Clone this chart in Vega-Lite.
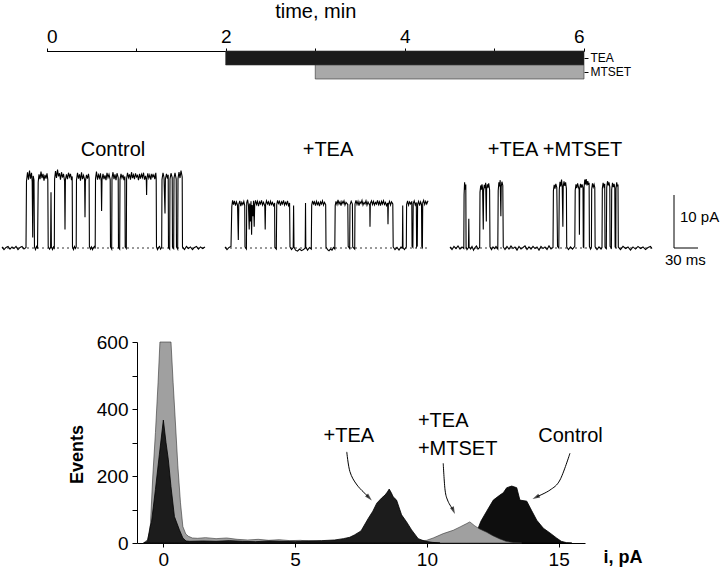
{
  "$schema": "https://vega.github.io/schema/vega-lite/v6.json",
  "width": 720,
  "height": 570,
  "autosize": {"type": "none"},
  "padding": 0,
  "background": "white",
  "config": {
    "view": {"stroke": null},
    "font": "Liberation Sans",
    "axis": {"labelFont": "Liberation Sans", "titleFont": "Liberation Sans", "labelColor": "black", "titleColor": "black", "domainColor": "black", "tickColor": "black", "grid": false},
    "text": {"font": "Liberation Sans", "color": "black"}
  },
  "datasets": {
    "drugs": [
      {"drug": "TEA", "start": 2, "end": 6},
      {"drug": "MTSET", "start": 3, "end": 6}
    ],
    "traces": [
      {"trace":"Control","t":2.5,"i":0.2},{"trace":"Control","t":5,"i":-0.3},{"trace":"Control","t":7.5,"i":0.1},{"trace":"Control","t":10,"i":0.3},{"trace":"Control","t":12.5,"i":-0.2},{"trace":"Control","t":15,"i":0.2},{"trace":"Control","t":17.5,"i":-0.1},{"trace":"Control","t":20,"i":0.3},{"trace":"Control","t":22.5,"i":-0.3},{"trace":"Control","t":25,"i":0.1},{"trace":"Control","t":27.5,"i":0.3},{"trace":"Control","t":30,"i":-0.2},{"trace":"Control","t":32.5,"i":0.1},
      {"trace":"Control","t":33.1,"i":12.6},{"trace":"Control","t":34.4,"i":14.3},{"trace":"Control","t":35.6,"i":12.9},{"trace":"Control","t":36.9,"i":14.6},{"trace":"Control","t":38.1,"i":13.1},{"trace":"Control","t":39.4,"i":14.2},{"trace":"Control","t":40.25,"i":12.5},{"trace":"Control","t":40.9,"i":2.0},{"trace":"Control","t":41.5,"i":13.6},{"trace":"Control","t":42.5,"i":12.8},
      {"trace":"Control","t":43.1,"i":0.2},{"trace":"Control","t":44.4,"i":-0.3},{"trace":"Control","t":45.6,"i":0.3},{"trace":"Control","t":46.9,"i":-0.1},
      {"trace":"Control","t":47.75,"i":12.4},{"trace":"Control","t":48.75,"i":13.9},{"trace":"Control","t":50,"i":13.0},{"trace":"Control","t":51.25,"i":14.4},{"trace":"Control","t":52.5,"i":13.2},{"trace":"Control","t":53.75,"i":14.0},{"trace":"Control","t":55,"i":12.7},{"trace":"Control","t":56.25,"i":13.8},{"trace":"Control","t":57.5,"i":13.1},{"trace":"Control","t":58.75,"i":14.1},{"trace":"Control","t":59.75,"i":12.9},
      {"trace":"Control","t":60.25,"i":0.3},{"trace":"Control","t":61.9,"i":-0.2},{"trace":"Control","t":63.25,"i":0.1},{"trace":"Control","t":63.75,"i":10.5},{"trace":"Control","t":64.25,"i":0.2},{"trace":"Control","t":65.6,"i":-0.3},{"trace":"Control","t":66.9,"i":0.2},{"trace":"Control","t":67.9,"i":0.0},
      {"trace":"Control","t":68.25,"i":13.0},{"trace":"Control","t":69.4,"i":14.5},{"trace":"Control","t":70.6,"i":13.2},{"trace":"Control","t":71.9,"i":14.8},{"trace":"Control","t":73.1,"i":13.5},{"trace":"Control","t":74.4,"i":14.1},{"trace":"Control","t":75.6,"i":12.9},{"trace":"Control","t":76.9,"i":14.3},{"trace":"Control","t":78.1,"i":13.3},{"trace":"Control","t":79.4,"i":14.0},{"trace":"Control","t":80.75,"i":12.6},{"trace":"Control","t":81.25,"i":3.5},{"trace":"Control","t":81.75,"i":12.8},{"trace":"Control","t":83.1,"i":13.9},{"trace":"Control","t":84.4,"i":13.0},{"trace":"Control","t":85.6,"i":14.2},{"trace":"Control","t":86.9,"i":13.4},{"trace":"Control","t":88.1,"i":14.0},{"trace":"Control","t":89.4,"i":12.8},{"trace":"Control","t":90.25,"i":13.5},
      {"trace":"Control","t":90.6,"i":0.2},{"trace":"Control","t":91.9,"i":-0.3},{"trace":"Control","t":93.1,"i":0.3},{"trace":"Control","t":94.4,"i":-0.1},{"trace":"Control","t":95.25,"i":0.2},
      {"trace":"Control","t":95.6,"i":12.8},{"trace":"Control","t":96.9,"i":14.2},{"trace":"Control","t":98.1,"i":13.1},{"trace":"Control","t":99.4,"i":13.9},{"trace":"Control","t":100.6,"i":12.7},{"trace":"Control","t":101.9,"i":14.3},{"trace":"Control","t":103.1,"i":13.0},{"trace":"Control","t":104.4,"i":13.7},{"trace":"Control","t":105.75,"i":12.9},{"trace":"Control","t":106.25,"i":5.8},{"trace":"Control","t":106.75,"i":12.6},{"trace":"Control","t":108.1,"i":13.8},{"trace":"Control","t":109.4,"i":13.1},{"trace":"Control","t":110.6,"i":14.0},{"trace":"Control","t":111.4,"i":13.2},
      {"trace":"Control","t":111.75,"i":0.3},{"trace":"Control","t":113.1,"i":-0.2},{"trace":"Control","t":114.4,"i":0.2},{"trace":"Control","t":115.6,"i":-0.3},{"trace":"Control","t":116.9,"i":0.1},{"trace":"Control","t":118.1,"i":0.3},{"trace":"Control","t":119,"i":-0.1},
      {"trace":"Control","t":119.4,"i":13.1},{"trace":"Control","t":120.6,"i":14.4},{"trace":"Control","t":121.9,"i":12.9},{"trace":"Control","t":123.1,"i":13.8},{"trace":"Control","t":124.4,"i":13.2},{"trace":"Control","t":125.6,"i":14.1},{"trace":"Control","t":126.5,"i":12.6},{"trace":"Control","t":127,"i":7.0},{"trace":"Control","t":127.5,"i":12.9},{"trace":"Control","t":128.75,"i":14.0},{"trace":"Control","t":130,"i":13.0},{"trace":"Control","t":131.25,"i":13.7},{"trace":"Control","t":132.5,"i":12.8},{"trace":"Control","t":133.75,"i":14.2},{"trace":"Control","t":135,"i":13.3},{"trace":"Control","t":136.25,"i":13.9},{"trace":"Control","t":137.75,"i":12.9},
      {"trace":"Control","t":138.1,"i":0.2},{"trace":"Control","t":139.6,"i":-0.2},
      {"trace":"Control","t":140,"i":13.2},{"trace":"Control","t":141.25,"i":14.3},{"trace":"Control","t":142.5,"i":13.0},{"trace":"Control","t":143.75,"i":13.9},{"trace":"Control","t":145,"i":12.8},{"trace":"Control","t":146.25,"i":14.1},{"trace":"Control","t":147.75,"i":13.3},
      {"trace":"Control","t":148.1,"i":0.1},{"trace":"Control","t":149.6,"i":-0.2},
      {"trace":"Control","t":150,"i":12.9},{"trace":"Control","t":151.25,"i":14.0},{"trace":"Control","t":152.5,"i":13.2},{"trace":"Control","t":153.75,"i":13.8},{"trace":"Control","t":155,"i":12.8},{"trace":"Control","t":156.1,"i":13.5},
      {"trace":"Control","t":156.5,"i":0.2},{"trace":"Control","t":157.9,"i":-0.1},
      {"trace":"Control","t":158.25,"i":13.1},{"trace":"Control","t":159.4,"i":14.2},{"trace":"Control","t":160.6,"i":13.3},{"trace":"Control","t":161.9,"i":13.9},{"trace":"Control","t":163.1,"i":12.9},{"trace":"Control","t":164.4,"i":14.3},{"trace":"Control","t":165.6,"i":13.2},{"trace":"Control","t":166.9,"i":13.8},{"trace":"Control","t":168.1,"i":13.0},{"trace":"Control","t":169.4,"i":14.1},{"trace":"Control","t":170.6,"i":13.4},{"trace":"Control","t":171.9,"i":13.7},{"trace":"Control","t":173.1,"i":12.8},{"trace":"Control","t":174.4,"i":14.0},{"trace":"Control","t":175.6,"i":13.1},{"trace":"Control","t":176.9,"i":13.9},{"trace":"Control","t":178.1,"i":13.3},{"trace":"Control","t":179.4,"i":14.2},{"trace":"Control","t":180.6,"i":12.9},{"trace":"Control","t":181.9,"i":13.6},{"trace":"Control","t":182.9,"i":12.7},{"trace":"Control","t":183.25,"i":10.0},{"trace":"Control","t":183.6,"i":13.0},{"trace":"Control","t":184.75,"i":14.1},{"trace":"Control","t":186,"i":13.2},{"trace":"Control","t":187.25,"i":13.8},{"trace":"Control","t":188.5,"i":12.9},{"trace":"Control","t":189.75,"i":14.0},{"trace":"Control","t":191,"i":13.4},{"trace":"Control","t":192.25,"i":13.8},{"trace":"Control","t":193.5,"i":13.0},{"trace":"Control","t":194.75,"i":14.2},{"trace":"Control","t":195.25,"i":13.1},
      {"trace":"Control","t":195.6,"i":0.2},{"trace":"Control","t":196.9,"i":-0.3},{"trace":"Control","t":198.1,"i":0.1},{"trace":"Control","t":199.4,"i":0.3},{"trace":"Control","t":200.6,"i":-0.2},{"trace":"Control","t":202.1,"i":0.1},
      {"trace":"Control","t":202.5,"i":12.9},{"trace":"Control","t":203.75,"i":14.2},{"trace":"Control","t":205,"i":13.3},{"trace":"Control","t":206.25,"i":6.5},{"trace":"Control","t":206.75,"i":13.0},{"trace":"Control","t":208.1,"i":14.0},{"trace":"Control","t":209.4,"i":13.1},{"trace":"Control","t":210.25,"i":13.8},
      {"trace":"Control","t":210.6,"i":0.1},{"trace":"Control","t":212.1,"i":-0.2},
      {"trace":"Control","t":212.5,"i":13.0},{"trace":"Control","t":213.75,"i":14.1},{"trace":"Control","t":215.25,"i":13.3},
      {"trace":"Control","t":215.6,"i":0.2},{"trace":"Control","t":217.1,"i":-0.1},
      {"trace":"Control","t":217.5,"i":13.2},{"trace":"Control","t":218.75,"i":14.2},{"trace":"Control","t":220.25,"i":13.0},
      {"trace":"Control","t":220.6,"i":0.2},{"trace":"Control","t":222.1,"i":-0.2},
      {"trace":"Control","t":222.5,"i":13.1},{"trace":"Control","t":223.75,"i":14.3},{"trace":"Control","t":225,"i":13.2},{"trace":"Control","t":226.25,"i":14.6},{"trace":"Control","t":227.75,"i":13.4},
      {"trace":"Control","t":228.1,"i":0.2},{"trace":"Control","t":230.6,"i":-0.3},{"trace":"Control","t":233.1,"i":0.3},{"trace":"Control","t":235.6,"i":-0.1},{"trace":"Control","t":238.1,"i":0.2},{"trace":"Control","t":240.6,"i":-0.3},{"trace":"Control","t":243.1,"i":0.1},{"trace":"Control","t":245.6,"i":0.3},{"trace":"Control","t":248.1,"i":-0.2},{"trace":"Control","t":250.6,"i":0.2},{"trace":"Control","t":253.1,"i":-0.1},{"trace":"Control","t":256.25,"i":0.2},

      {"trace":"+TEA","t":281.25,"i":0.2},{"trace":"+TEA","t":283.75,"i":-0.3},{"trace":"+TEA","t":286.25,"i":0.1},{"trace":"+TEA","t":288.75,"i":0.3},
      {"trace":"+TEA","t":289.75,"i":7.8},{"trace":"+TEA","t":290.75,"i":9.0},{"trace":"+TEA","t":291.9,"i":8.2},{"trace":"+TEA","t":293.1,"i":8.9},{"trace":"+TEA","t":294.4,"i":8.0},{"trace":"+TEA","t":295.6,"i":8.7},{"trace":"+TEA","t":296.9,"i":8.1},
      {"trace":"+TEA","t":297.9,"i":1.5},
      {"trace":"+TEA","t":298.5,"i":8.3},{"trace":"+TEA","t":299.75,"i":8.9},{"trace":"+TEA","t":301,"i":7.9},{"trace":"+TEA","t":302.25,"i":8.6},{"trace":"+TEA","t":303.5,"i":8.2},{"trace":"+TEA","t":304.75,"i":8.8},{"trace":"+TEA","t":305.9,"i":8.0},
      {"trace":"+TEA","t":306.25,"i":0.2},{"trace":"+TEA","t":308,"i":-0.2},
      {"trace":"+TEA","t":308.4,"i":8.5},{"trace":"+TEA","t":309.5,"i":9.1},{"trace":"+TEA","t":310.6,"i":8.0},{"trace":"+TEA","t":311.5,"i":3.5},{"trace":"+TEA","t":312.1,"i":8.4},{"trace":"+TEA","t":313.1,"i":5.0},{"trace":"+TEA","t":313.75,"i":8.8},{"trace":"+TEA","t":314.5,"i":2.5},{"trace":"+TEA","t":315.1,"i":8.1},{"trace":"+TEA","t":316.25,"i":6.0},{"trace":"+TEA","t":316.9,"i":8.9},{"trace":"+TEA","t":317.75,"i":4.0},{"trace":"+TEA","t":318.4,"i":8.3},{"trace":"+TEA","t":319.4,"i":9.0},{"trace":"+TEA","t":320.6,"i":8.2},{"trace":"+TEA","t":321.9,"i":8.8},{"trace":"+TEA","t":323.1,"i":7.9},{"trace":"+TEA","t":324.4,"i":8.7},{"trace":"+TEA","t":325.6,"i":8.3},{"trace":"+TEA","t":326.9,"i":9.0},{"trace":"+TEA","t":328.1,"i":8.1},{"trace":"+TEA","t":329.4,"i":8.6},{"trace":"+TEA","t":331,"i":7.9},{"trace":"+TEA","t":331.5,"i":3.5},{"trace":"+TEA","t":332,"i":8.2},{"trace":"+TEA","t":333.1,"i":8.9},{"trace":"+TEA","t":334.4,"i":8.3},{"trace":"+TEA","t":335.6,"i":8.7},{"trace":"+TEA","t":336.9,"i":8.0},{"trace":"+TEA","t":338.1,"i":8.8},{"trace":"+TEA","t":339.4,"i":8.2},{"trace":"+TEA","t":340.6,"i":8.6},{"trace":"+TEA","t":341.9,"i":8.0},{"trace":"+TEA","t":343.25,"i":8.5},
      {"trace":"+TEA","t":343.6,"i":0.1},{"trace":"+TEA","t":345.4,"i":-0.2},
      {"trace":"+TEA","t":345.9,"i":8.2},{"trace":"+TEA","t":347,"i":9.0},{"trace":"+TEA","t":348.1,"i":8.4},{"trace":"+TEA","t":349.4,"i":8.8},{"trace":"+TEA","t":350.6,"i":8.0},{"trace":"+TEA","t":351.9,"i":8.7},{"trace":"+TEA","t":353.1,"i":8.3},{"trace":"+TEA","t":354.4,"i":9.0},{"trace":"+TEA","t":355.6,"i":8.1},{"trace":"+TEA","t":356.9,"i":8.6},{"trace":"+TEA","t":358.1,"i":8.2},{"trace":"+TEA","t":359.4,"i":8.9},{"trace":"+TEA","t":360.6,"i":8.0},{"trace":"+TEA","t":362,"i":8.5},
      {"trace":"+TEA","t":362.5,"i":0.2},{"trace":"+TEA","t":364.4,"i":-0.3},{"trace":"+TEA","t":366.5,"i":0.1},{"trace":"+TEA","t":367,"i":8.0},{"trace":"+TEA","t":367.5,"i":0.2},{"trace":"+TEA","t":369.4,"i":-0.4},{"trace":"+TEA","t":371.9,"i":-0.6},{"trace":"+TEA","t":374.4,"i":-0.2},{"trace":"+TEA","t":376.9,"i":-0.5},{"trace":"+TEA","t":379.4,"i":-0.3},{"trace":"+TEA","t":381.5,"i":0.0},{"trace":"+TEA","t":381.9,"i":8.5},{"trace":"+TEA","t":382.25,"i":0.2},{"trace":"+TEA","t":384.4,"i":-0.4},{"trace":"+TEA","t":386.9,"i":0.1},{"trace":"+TEA","t":389.1,"i":-0.2},
      {"trace":"+TEA","t":389.6,"i":8.1},{"trace":"+TEA","t":390.75,"i":8.9},{"trace":"+TEA","t":391.9,"i":8.3},{"trace":"+TEA","t":393.1,"i":8.7},{"trace":"+TEA","t":394.4,"i":8.0},{"trace":"+TEA","t":395.6,"i":8.8},{"trace":"+TEA","t":396.9,"i":8.2},{"trace":"+TEA","t":398.1,"i":8.6},{"trace":"+TEA","t":399.4,"i":7.9},{"trace":"+TEA","t":400.6,"i":8.7},{"trace":"+TEA","t":401.9,"i":8.3},{"trace":"+TEA","t":403.1,"i":8.9},{"trace":"+TEA","t":404.4,"i":8.1},{"trace":"+TEA","t":405.6,"i":8.6},{"trace":"+TEA","t":407.1,"i":8.2},
      {"trace":"+TEA","t":407.5,"i":0.2},{"trace":"+TEA","t":409.4,"i":-0.3},{"trace":"+TEA","t":411.25,"i":-0.5},{"trace":"+TEA","t":413.1,"i":-0.2},{"trace":"+TEA","t":415,"i":-0.4},{"trace":"+TEA","t":416.9,"i":0.1},{"trace":"+TEA","t":418.5,"i":-0.2},
      {"trace":"+TEA","t":419,"i":8.0},{"trace":"+TEA","t":420,"i":8.8},{"trace":"+TEA","t":421.25,"i":8.2},{"trace":"+TEA","t":422.5,"i":9.1},{"trace":"+TEA","t":423.75,"i":8.3},{"trace":"+TEA","t":425,"i":8.7},{"trace":"+TEA","t":426.25,"i":8.0},{"trace":"+TEA","t":427.5,"i":8.8},{"trace":"+TEA","t":428.75,"i":8.4},{"trace":"+TEA","t":430,"i":8.9},{"trace":"+TEA","t":431.25,"i":8.1},{"trace":"+TEA","t":432.5,"i":8.6},{"trace":"+TEA","t":434.75,"i":8.2},
      {"trace":"+TEA","t":435.25,"i":0.3},{"trace":"+TEA","t":437.1,"i":-0.1},
      {"trace":"+TEA","t":437.5,"i":8.1},{"trace":"+TEA","t":439,"i":8.8},{"trace":"+TEA","t":440.5,"i":8.3},
      {"trace":"+TEA","t":440.9,"i":0.2},{"trace":"+TEA","t":443.4,"i":-0.2},
      {"trace":"+TEA","t":443.75,"i":8.3},{"trace":"+TEA","t":445,"i":9.0},{"trace":"+TEA","t":446.25,"i":8.2},{"trace":"+TEA","t":447.5,"i":8.8},{"trace":"+TEA","t":448.75,"i":8.0},{"trace":"+TEA","t":450,"i":8.7},{"trace":"+TEA","t":451.25,"i":8.4},{"trace":"+TEA","t":452.5,"i":9.0},{"trace":"+TEA","t":453.75,"i":8.1},{"trace":"+TEA","t":455,"i":8.6},{"trace":"+TEA","t":456.25,"i":8.3},{"trace":"+TEA","t":457.5,"i":8.9},{"trace":"+TEA","t":458.75,"i":8.1},{"trace":"+TEA","t":460,"i":8.7},{"trace":"+TEA","t":462.25,"i":8.0},{"trace":"+TEA","t":462.5,"i":4.0},{"trace":"+TEA","t":462.9,"i":8.4},{"trace":"+TEA","t":464.4,"i":8.9},{"trace":"+TEA","t":465.6,"i":8.2},{"trace":"+TEA","t":466.9,"i":8.8},{"trace":"+TEA","t":468.1,"i":8.1},{"trace":"+TEA","t":469.4,"i":8.6},{"trace":"+TEA","t":470.6,"i":8.3},{"trace":"+TEA","t":471.9,"i":9.0},{"trace":"+TEA","t":473.1,"i":8.2},{"trace":"+TEA","t":474.4,"i":8.7},{"trace":"+TEA","t":475.6,"i":8.0},{"trace":"+TEA","t":476.9,"i":8.8},{"trace":"+TEA","t":478.1,"i":8.3},{"trace":"+TEA","t":479.4,"i":8.9},{"trace":"+TEA","t":480.6,"i":8.2},{"trace":"+TEA","t":481.9,"i":8.6},{"trace":"+TEA","t":483.1,"i":8.0},{"trace":"+TEA","t":484.6,"i":8.5},{"trace":"+TEA","t":485,"i":4.5},{"trace":"+TEA","t":485.4,"i":8.2},{"trace":"+TEA","t":486.9,"i":8.8},{"trace":"+TEA","t":488.1,"i":8.1},{"trace":"+TEA","t":489.4,"i":8.7},{"trace":"+TEA","t":491,"i":8.3},
      {"trace":"+TEA","t":491.5,"i":0.2},{"trace":"+TEA","t":493.75,"i":-0.3},{"trace":"+TEA","t":496.25,"i":0.1},{"trace":"+TEA","t":498.75,"i":-0.4},{"trace":"+TEA","t":501.25,"i":0.2},{"trace":"+TEA","t":503,"i":0.0},{"trace":"+TEA","t":503.4,"i":8.0},{"trace":"+TEA","t":503.75,"i":0.1},{"trace":"+TEA","t":505.6,"i":-0.3},{"trace":"+TEA","t":507.9,"i":0.2},
      {"trace":"+TEA","t":508.25,"i":8.2},{"trace":"+TEA","t":509.5,"i":8.9},{"trace":"+TEA","t":510.75,"i":8.1},{"trace":"+TEA","t":512,"i":8.7},{"trace":"+TEA","t":513.25,"i":8.3},{"trace":"+TEA","t":514.75,"i":8.8},
      {"trace":"+TEA","t":515.1,"i":0.3},{"trace":"+TEA","t":516.1,"i":0.1},
      {"trace":"+TEA","t":516.5,"i":8.4},{"trace":"+TEA","t":517.75,"i":8.9},{"trace":"+TEA","t":519.1,"i":8.1},{"trace":"+TEA","t":520.4,"i":8.6},
      {"trace":"+TEA","t":520.75,"i":0.2},{"trace":"+TEA","t":521.6,"i":0.4},
      {"trace":"+TEA","t":522,"i":8.3},{"trace":"+TEA","t":523.25,"i":8.8},{"trace":"+TEA","t":524.5,"i":8.0},{"trace":"+TEA","t":525.75,"i":8.7},{"trace":"+TEA","t":526.9,"i":8.2},
      {"trace":"+TEA","t":527.25,"i":0.3},{"trace":"+TEA","t":528,"i":0.1},
      {"trace":"+TEA","t":528.4,"i":8.5},{"trace":"+TEA","t":529.6,"i":9.0},{"trace":"+TEA","t":530.9,"i":8.2},{"trace":"+TEA","t":532.1,"i":8.8},{"trace":"+TEA","t":533.4,"i":8.3},{"trace":"+TEA","t":535,"i":8.9},

      {"trace":"+TEA +MTSET","t":562.5,"i":0.2},{"trace":"+TEA +MTSET","t":565,"i":-0.3},{"trace":"+TEA +MTSET","t":567.5,"i":0.3},{"trace":"+TEA +MTSET","t":570,"i":-0.1},{"trace":"+TEA +MTSET","t":572.5,"i":0.4},{"trace":"+TEA +MTSET","t":575,"i":-0.2},{"trace":"+TEA +MTSET","t":577.5,"i":0.2},{"trace":"+TEA +MTSET","t":579.75,"i":-0.1},
      {"trace":"+TEA +MTSET","t":580.1,"i":10.0},{"trace":"+TEA +MTSET","t":580.75,"i":12.4},{"trace":"+TEA +MTSET","t":581.5,"i":11.0},{"trace":"+TEA +MTSET","t":582.25,"i":12.0},
      {"trace":"+TEA +MTSET","t":582.6,"i":0.2},{"trace":"+TEA +MTSET","t":583.75,"i":-0.3},{"trace":"+TEA +MTSET","t":585.6,"i":0.1},{"trace":"+TEA +MTSET","t":586,"i":5.5},{"trace":"+TEA +MTSET","t":586.4,"i":0.2},{"trace":"+TEA +MTSET","t":588.1,"i":-0.2},{"trace":"+TEA +MTSET","t":590,"i":0.3},{"trace":"+TEA +MTSET","t":591.9,"i":-0.4},{"trace":"+TEA +MTSET","t":593.75,"i":0.1},{"trace":"+TEA +MTSET","t":595.6,"i":0.4},{"trace":"+TEA +MTSET","t":597.5,"i":-0.2},{"trace":"+TEA +MTSET","t":599.6,"i":0.1},
      {"trace":"+TEA +MTSET","t":600,"i":10.5},{"trace":"+TEA +MTSET","t":600.9,"i":11.8},{"trace":"+TEA +MTSET","t":601.75,"i":11.0},{"trace":"+TEA +MTSET","t":602.5,"i":12.0},{"trace":"+TEA +MTSET","t":603.25,"i":11.2},{"trace":"+TEA +MTSET","t":604.1,"i":3.5},{"trace":"+TEA +MTSET","t":604.5,"i":10.8},{"trace":"+TEA +MTSET","t":605.4,"i":11.9},{"trace":"+TEA +MTSET","t":606.25,"i":11.3},{"trace":"+TEA +MTSET","t":607.1,"i":12.3},{"trace":"+TEA +MTSET","t":607.9,"i":5.0},{"trace":"+TEA +MTSET","t":608.25,"i":11.0},{"trace":"+TEA +MTSET","t":609.1,"i":12.0},{"trace":"+TEA +MTSET","t":610,"i":11.4},{"trace":"+TEA +MTSET","t":610.9,"i":12.2},{"trace":"+TEA +MTSET","t":612,"i":11.0},
      {"trace":"+TEA +MTSET","t":612.5,"i":0.2},{"trace":"+TEA +MTSET","t":614.4,"i":-0.3},{"trace":"+TEA +MTSET","t":616.25,"i":0.2},{"trace":"+TEA +MTSET","t":618.1,"i":-0.1},{"trace":"+TEA +MTSET","t":620,"i":0.3},{"trace":"+TEA +MTSET","t":622.25,"i":-0.2},
      {"trace":"+TEA +MTSET","t":622.75,"i":10.8},{"trace":"+TEA +MTSET","t":623.6,"i":12.4},{"trace":"+TEA +MTSET","t":624.5,"i":11.6},{"trace":"+TEA +MTSET","t":625.25,"i":12.8},{"trace":"+TEA +MTSET","t":626.1,"i":6.0},{"trace":"+TEA +MTSET","t":626.5,"i":11.5},{"trace":"+TEA +MTSET","t":627.4,"i":12.5},{"trace":"+TEA +MTSET","t":628.5,"i":11.8},
      {"trace":"+TEA +MTSET","t":629.1,"i":0.2},{"trace":"+TEA +MTSET","t":631.25,"i":-0.3},{"trace":"+TEA +MTSET","t":633.75,"i":0.3},{"trace":"+TEA +MTSET","t":636.25,"i":-0.2},{"trace":"+TEA +MTSET","t":638.75,"i":0.4},{"trace":"+TEA +MTSET","t":641.25,"i":-0.1},{"trace":"+TEA +MTSET","t":643.75,"i":0.2},{"trace":"+TEA +MTSET","t":646.25,"i":-0.4},{"trace":"+TEA +MTSET","t":648.75,"i":0.3},{"trace":"+TEA +MTSET","t":651.25,"i":-0.2},{"trace":"+TEA +MTSET","t":653.75,"i":0.1},{"trace":"+TEA +MTSET","t":656.25,"i":0.4},{"trace":"+TEA +MTSET","t":658.75,"i":-0.3},{"trace":"+TEA +MTSET","t":661.25,"i":0.2},{"trace":"+TEA +MTSET","t":663.75,"i":-0.2},{"trace":"+TEA +MTSET","t":666.25,"i":0.3},{"trace":"+TEA +MTSET","t":668.75,"i":-0.1},{"trace":"+TEA +MTSET","t":671.25,"i":0.2},{"trace":"+TEA +MTSET","t":673.75,"i":-0.4},{"trace":"+TEA +MTSET","t":676.25,"i":0.3},{"trace":"+TEA +MTSET","t":678.75,"i":-0.1},{"trace":"+TEA +MTSET","t":681.25,"i":0.2},{"trace":"+TEA +MTSET","t":683.75,"i":-0.3},{"trace":"+TEA +MTSET","t":686.25,"i":0.4},{"trace":"+TEA +MTSET","t":688.75,"i":-0.2},{"trace":"+TEA +MTSET","t":691.25,"i":0.1},
      {"trace":"+TEA +MTSET","t":691.75,"i":10.8},{"trace":"+TEA +MTSET","t":692.75,"i":11.9},{"trace":"+TEA +MTSET","t":693.75,"i":11.2},{"trace":"+TEA +MTSET","t":694.75,"i":12.1},{"trace":"+TEA +MTSET","t":696,"i":11.4},
      {"trace":"+TEA +MTSET","t":696.9,"i":0.3},{"trace":"+TEA +MTSET","t":698.5,"i":0.0},
      {"trace":"+TEA +MTSET","t":699.1,"i":11.0},{"trace":"+TEA +MTSET","t":700,"i":12.5},{"trace":"+TEA +MTSET","t":701,"i":11.6},{"trace":"+TEA +MTSET","t":701.9,"i":12.9},{"trace":"+TEA +MTSET","t":702.75,"i":11.8},{"trace":"+TEA +MTSET","t":703.6,"i":4.0},{"trace":"+TEA +MTSET","t":704,"i":11.5},{"trace":"+TEA +MTSET","t":705,"i":12.6},{"trace":"+TEA +MTSET","t":706,"i":11.7},{"trace":"+TEA +MTSET","t":707,"i":12.4},{"trace":"+TEA +MTSET","t":708,"i":11.2},
      {"trace":"+TEA +MTSET","t":708.4,"i":0.2},{"trace":"+TEA +MTSET","t":710.6,"i":-0.3},{"trace":"+TEA +MTSET","t":713.1,"i":0.2},{"trace":"+TEA +MTSET","t":715.6,"i":-0.2},{"trace":"+TEA +MTSET","t":718.5,"i":0.3},
      {"trace":"+TEA +MTSET","t":719,"i":10.9},{"trace":"+TEA +MTSET","t":720,"i":12.0},{"trace":"+TEA +MTSET","t":721,"i":11.3},{"trace":"+TEA +MTSET","t":722,"i":12.2},{"trace":"+TEA +MTSET","t":723.1,"i":11.5},{"trace":"+TEA +MTSET","t":723.9,"i":11.0},{"trace":"+TEA +MTSET","t":724.25,"i":2.5},{"trace":"+TEA +MTSET","t":724.6,"i":11.2},{"trace":"+TEA +MTSET","t":725.6,"i":12.1},{"trace":"+TEA +MTSET","t":726.6,"i":11.4},{"trace":"+TEA +MTSET","t":727.6,"i":12.0},{"trace":"+TEA +MTSET","t":728.75,"i":11.3},
      {"trace":"+TEA +MTSET","t":729.1,"i":0.2},{"trace":"+TEA +MTSET","t":729.75,"i":0.1},
      {"trace":"+TEA +MTSET","t":730.1,"i":11.5},{"trace":"+TEA +MTSET","t":731,"i":12.9},{"trace":"+TEA +MTSET","t":731.9,"i":12.0},{"trace":"+TEA +MTSET","t":732.75,"i":13.0},{"trace":"+TEA +MTSET","t":733.75,"i":11.8},{"trace":"+TEA +MTSET","t":734.75,"i":12.6},{"trace":"+TEA +MTSET","t":735.6,"i":11.9},{"trace":"+TEA +MTSET","t":736.4,"i":12.3},
      {"trace":"+TEA +MTSET","t":736.75,"i":0.3},{"trace":"+TEA +MTSET","t":738.1,"i":-0.2},{"trace":"+TEA +MTSET","t":739.25,"i":0.2},
      {"trace":"+TEA +MTSET","t":739.6,"i":11.1},{"trace":"+TEA +MTSET","t":740.6,"i":12.2},{"trace":"+TEA +MTSET","t":741.6,"i":11.5},{"trace":"+TEA +MTSET","t":742.6,"i":12.0},{"trace":"+TEA +MTSET","t":743.5,"i":11.4},
      {"trace":"+TEA +MTSET","t":743.9,"i":0.2},{"trace":"+TEA +MTSET","t":746.25,"i":-0.3},{"trace":"+TEA +MTSET","t":748.75,"i":0.2},{"trace":"+TEA +MTSET","t":751.25,"i":-0.2},{"trace":"+TEA +MTSET","t":752.5,"i":0.1},
      {"trace":"+TEA +MTSET","t":752.9,"i":11.2},{"trace":"+TEA +MTSET","t":753.9,"i":12.3},{"trace":"+TEA +MTSET","t":754.9,"i":11.6},{"trace":"+TEA +MTSET","t":755.9,"i":12.1},
      {"trace":"+TEA +MTSET","t":756.25,"i":0.2},{"trace":"+TEA +MTSET","t":757.9,"i":-0.1},
      {"trace":"+TEA +MTSET","t":758.4,"i":11.4},{"trace":"+TEA +MTSET","t":759.4,"i":12.6},{"trace":"+TEA +MTSET","t":760.4,"i":11.8},{"trace":"+TEA +MTSET","t":761.25,"i":12.4},{"trace":"+TEA +MTSET","t":762.25,"i":11.5},
      {"trace":"+TEA +MTSET","t":762.6,"i":0.3},{"trace":"+TEA +MTSET","t":764.25,"i":0.0},
      {"trace":"+TEA +MTSET","t":764.6,"i":11.0},{"trace":"+TEA +MTSET","t":765.6,"i":12.3},{"trace":"+TEA +MTSET","t":766.6,"i":11.5},{"trace":"+TEA +MTSET","t":767.6,"i":12.1},{"trace":"+TEA +MTSET","t":768.5,"i":11.3},
      {"trace":"+TEA +MTSET","t":768.9,"i":0.2},{"trace":"+TEA +MTSET","t":769.75,"i":0.1},
      {"trace":"+TEA +MTSET","t":770,"i":11.2},{"trace":"+TEA +MTSET","t":770.9,"i":12.4},{"trace":"+TEA +MTSET","t":771.75,"i":11.6},{"trace":"+TEA +MTSET","t":772.5,"i":12.0},
      {"trace":"+TEA +MTSET","t":772.9,"i":0.2},{"trace":"+TEA +MTSET","t":775.6,"i":-0.3},{"trace":"+TEA +MTSET","t":778.75,"i":0.3},{"trace":"+TEA +MTSET","t":781.9,"i":-0.1},{"trace":"+TEA +MTSET","t":785,"i":0.2},{"trace":"+TEA +MTSET","t":788.1,"i":-0.4},{"trace":"+TEA +MTSET","t":791.25,"i":0.2},{"trace":"+TEA +MTSET","t":794.4,"i":-0.2},{"trace":"+TEA +MTSET","t":797.5,"i":0.3},{"trace":"+TEA +MTSET","t":800.6,"i":-0.1},{"trace":"+TEA +MTSET","t":803.75,"i":0.2},{"trace":"+TEA +MTSET","t":806.9,"i":-0.3},{"trace":"+TEA +MTSET","t":810,"i":0.1},{"trace":"+TEA +MTSET","t":813.1,"i":0.3},{"trace":"+TEA +MTSET","t":815,"i":-0.1}
    ],
    "baselines": [
      {"trace": "Control", "t0": 2.5, "t1": 256.25, "i": 0},
      {"trace": "+TEA", "t0": 281.25, "t1": 535, "i": 0},
      {"trace": "+TEA +MTSET", "t0": 562.5, "t1": 815, "i": 0}
    ],
    "tracetitles": [
      {"text": "Control", "t": 141.25, "i": 17.4},
      {"text": "+TEA", "t": 410, "i": 17.4},
      {"text": "+TEA +MTSET", "t": 693.75, "i": 17.4}
    ],
    "barV": [{"t": 842.5, "i0": 0, "i1": 10}],
    "barH": [{"t0": 842.5, "t1": 872.5, "i": 0}],
    "barlabels": [
      {"text": "10 pA", "t": 850, "i": 5.85},
      {"text": "30 ms", "t": 831.25, "i": -2.26}
    ],
    "hist": [
      {"s":"Control","i":-0.5,"ev":0},{"s":"Control","i":-0.3,"ev":40},{"s":"Control","i":-0.1,"ev":160},{"s":"Control","i":0,"ev":220},{"s":"Control","i":0.1,"ev":160},{"s":"Control","i":0.3,"ev":40},{"s":"Control","i":0.5,"ev":12},{"s":"Control","i":0.8,"ev":6},{"s":"Control","i":1,"ev":6},{"s":"Control","i":2,"ev":7},{"s":"Control","i":3,"ev":6},{"s":"Control","i":4,"ev":5},{"s":"Control","i":5,"ev":6},{"s":"Control","i":6,"ev":5},{"s":"Control","i":7,"ev":6},{"s":"Control","i":8,"ev":5},{"s":"Control","i":9,"ev":6},{"s":"Control","i":10,"ev":6},{"s":"Control","i":10.5,"ev":8},{"s":"Control","i":11,"ev":12},{"s":"Control","i":11.5,"ev":20},{"s":"Control","i":11.8,"ev":32},{"s":"Control","i":11.95,"ev":45},{"s":"Control","i":12.05,"ev":65},{"s":"Control","i":12.27,"ev":95},{"s":"Control","i":12.52,"ev":128},{"s":"Control","i":12.77,"ev":143},{"s":"Control","i":12.9,"ev":150},{"s":"Control","i":13.03,"ev":165},{"s":"Control","i":13.22,"ev":170},{"s":"Control","i":13.41,"ev":165},{"s":"Control","i":13.53,"ev":128},{"s":"Control","i":13.79,"ev":125},{"s":"Control","i":13.98,"ev":96},{"s":"Control","i":14.17,"ev":68},{"s":"Control","i":14.42,"ev":44},{"s":"Control","i":14.67,"ev":30},{"s":"Control","i":14.92,"ev":15},{"s":"Control","i":15.1,"ev":5},{"s":"Control","i":15.3,"ev":1},{"s":"Control","i":15.5,"ev":0},
      {"s":"+TEA +MTSET","i":-0.75,"ev":0},{"s":"+TEA +MTSET","i":-0.6,"ev":10},{"s":"+TEA +MTSET","i":-0.5,"ev":40},{"s":"+TEA +MTSET","i":-0.4,"ev":200},{"s":"+TEA +MTSET","i":-0.3,"ev":330},{"s":"+TEA +MTSET","i":-0.2,"ev":480},{"s":"+TEA +MTSET","i":-0.13,"ev":600},{"s":"+TEA +MTSET","i":0.29,"ev":600},{"s":"+TEA +MTSET","i":0.37,"ev":480},{"s":"+TEA +MTSET","i":0.45,"ev":370},{"s":"+TEA +MTSET","i":0.55,"ev":230},{"s":"+TEA +MTSET","i":0.65,"ev":120},{"s":"+TEA +MTSET","i":0.74,"ev":49},{"s":"+TEA +MTSET","i":0.85,"ev":27},{"s":"+TEA +MTSET","i":0.95,"ev":20},{"s":"+TEA +MTSET","i":1.1,"ev":15},{"s":"+TEA +MTSET","i":1.3,"ev":14},{"s":"+TEA +MTSET","i":1.6,"ev":16},{"s":"+TEA +MTSET","i":2.0,"ev":13},{"s":"+TEA +MTSET","i":2.4,"ev":15},{"s":"+TEA +MTSET","i":2.8,"ev":11},{"s":"+TEA +MTSET","i":3.2,"ev":9},{"s":"+TEA +MTSET","i":3.6,"ev":11},{"s":"+TEA +MTSET","i":4.0,"ev":8},{"s":"+TEA +MTSET","i":4.4,"ev":10},{"s":"+TEA +MTSET","i":4.8,"ev":7},{"s":"+TEA +MTSET","i":5.2,"ev":8},{"s":"+TEA +MTSET","i":5.6,"ev":5},{"s":"+TEA +MTSET","i":6.0,"ev":4},{"s":"+TEA +MTSET","i":6.5,"ev":5},{"s":"+TEA +MTSET","i":7.0,"ev":3},{"s":"+TEA +MTSET","i":7.5,"ev":3},{"s":"+TEA +MTSET","i":8.0,"ev":3},{"s":"+TEA +MTSET","i":8.5,"ev":3},{"s":"+TEA +MTSET","i":9.0,"ev":3},{"s":"+TEA +MTSET","i":9.5,"ev":4},{"s":"+TEA +MTSET","i":9.99,"ev":8},{"s":"+TEA +MTSET","i":10.24,"ev":15},{"s":"+TEA +MTSET","i":10.62,"ev":28},{"s":"+TEA +MTSET","i":11.0,"ev":38},{"s":"+TEA +MTSET","i":11.26,"ev":48},{"s":"+TEA +MTSET","i":11.51,"ev":58},{"s":"+TEA +MTSET","i":11.63,"ev":63},{"s":"+TEA +MTSET","i":11.82,"ev":51},{"s":"+TEA +MTSET","i":12.0,"ev":42},{"s":"+TEA +MTSET","i":12.27,"ev":32},{"s":"+TEA +MTSET","i":12.5,"ev":22},{"s":"+TEA +MTSET","i":12.77,"ev":12},{"s":"+TEA +MTSET","i":13.0,"ev":5},{"s":"+TEA +MTSET","i":13.3,"ev":1},{"s":"+TEA +MTSET","i":13.6,"ev":0},
      {"s":"+TEA","i":-0.75,"ev":0},{"s":"+TEA","i":-0.6,"ev":5},{"s":"+TEA","i":-0.5,"ev":50},{"s":"+TEA","i":-0.45,"ev":62},{"s":"+TEA","i":-0.3,"ev":160},{"s":"+TEA","i":-0.15,"ev":265},{"s":"+TEA","i":0,"ev":367},{"s":"+TEA","i":0.1,"ev":300},{"s":"+TEA","i":0.19,"ev":248},{"s":"+TEA","i":0.29,"ev":168},{"s":"+TEA","i":0.42,"ev":79},{"s":"+TEA","i":0.61,"ev":39},{"s":"+TEA","i":0.74,"ev":15},{"s":"+TEA","i":0.86,"ev":6},{"s":"+TEA","i":1.0,"ev":5},{"s":"+TEA","i":1.5,"ev":6},{"s":"+TEA","i":2.0,"ev":5},{"s":"+TEA","i":2.5,"ev":7},{"s":"+TEA","i":3.0,"ev":5},{"s":"+TEA","i":3.5,"ev":4},{"s":"+TEA","i":4.0,"ev":6},{"s":"+TEA","i":4.5,"ev":5},{"s":"+TEA","i":5.0,"ev":4},{"s":"+TEA","i":5.5,"ev":6},{"s":"+TEA","i":6.0,"ev":7},{"s":"+TEA","i":6.5,"ev":9},{"s":"+TEA","i":6.83,"ev":13},{"s":"+TEA","i":7.07,"ev":17},{"s":"+TEA","i":7.25,"ev":24},{"s":"+TEA","i":7.5,"ev":36},{"s":"+TEA","i":7.78,"ev":74},{"s":"+TEA","i":7.95,"ev":95},{"s":"+TEA","i":8.1,"ev":119},{"s":"+TEA","i":8.28,"ev":134},{"s":"+TEA","i":8.41,"ev":143},{"s":"+TEA","i":8.5,"ev":152},{"s":"+TEA","i":8.57,"ev":161},{"s":"+TEA","i":8.65,"ev":150},{"s":"+TEA","i":8.72,"ev":138},{"s":"+TEA","i":8.85,"ev":128},{"s":"+TEA","i":9.04,"ev":84},{"s":"+TEA","i":9.23,"ev":63},{"s":"+TEA","i":9.42,"ev":39},{"s":"+TEA","i":9.67,"ev":13},{"s":"+TEA","i":9.93,"ev":5},{"s":"+TEA","i":10.2,"ev":2},{"s":"+TEA","i":10.5,"ev":0}
    ],
    "notes": [
      {"text": "+TEA", "i": 7.04, "ev": 319, "align": "center"},
      {"text": "+TEA", "i": 9.66, "ev": 365, "align": "left"},
      {"text": "+MTSET", "i": 9.66, "ev": 281, "align": "left"},
      {"text": "Control", "i": 15.45, "ev": 319, "align": "center"}
    ],
    "arrows": [
      {"arrow": "a1", "n": 0, "i": 6.96, "ev": 272},
      {"arrow": "a1", "n": 1, "i": 7.08, "ev": 213},
      {"arrow": "a1", "n": 2, "i": 7.35, "ev": 173},
      {"arrow": "a1", "n": 3, "i": 7.78, "ev": 138},
      {"arrow": "a2", "n": 0, "i": 10.62, "ev": 238},
      {"arrow": "a2", "n": 1, "i": 10.69, "ev": 158},
      {"arrow": "a2", "n": 2, "i": 10.8, "ev": 125},
      {"arrow": "a2", "n": 3, "i": 10.98, "ev": 101},
      {"arrow": "a3", "n": 0, "i": 15.43, "ev": 268},
      {"arrow": "a3", "n": 1, "i": 15.05, "ev": 188},
      {"arrow": "a3", "n": 2, "i": 14.67, "ev": 158},
      {"arrow": "a3", "n": 3, "i": 14.17, "ev": 138}
    ],
    "heads": [
      {"arrow": "a1", "i": 7.8, "ev": 136},
      {"arrow": "a2", "i": 11.0, "ev": 98},
      {"arrow": "a3", "i": 14.15, "ev": 137}
    ]
  },
  "layer": [
    {
      "data": {"name": "drugs"},
      "mark": {"type": "bar", "stroke": "#333", "strokeWidth": 0.6},
      "encoding": {
        "x": {
          "field": "start", "type": "quantitative",
          "scale": {"domain": [0, 6], "range": [46.5, 584], "nice": false, "zero": false},
          "axis": {"orient": "top", "offset": -51, "values": [0, 1, 2, 3, 4, 5, 6],
            "labelExpr": "datum.value % 2 == 0 ? datum.label : ''",
            "title": "time, min", "titleFontSize": 20, "titleFontWeight": "normal",
            "titleY": -34, "titleBaseline": "alphabetic",
            "labelFontSize": 19, "tickSize": 3, "labelPadding": 2, "domainWidth": 1}
        },
        "x2": {"field": "end"},
        "y": {
          "field": "drug", "type": "nominal", "sort": ["TEA", "MTSET"],
          "scale": {"range": [51, 79], "paddingInner": 0, "paddingOuter": 0},
          "axis": {"orient": "right", "offset": -136, "title": null, "domain": false, "tickSize": 4, "labelFontSize": 12, "labelPadding": 2}
        },
        "color": {"field": "drug", "type": "nominal", "scale": {"domain": ["TEA", "MTSET"], "range": ["#1b1b1b", "#a9a9a9"]}, "legend": null}
      }
    },
    {
      "layer": [
        {
          "data": {"name": "traces"},
          "mark": {"type": "line", "color": "black", "strokeWidth": 1.1},
          "encoding": {
            "x": {"field": "t", "type": "quantitative", "scale": {"domain": [0, 900], "range": [0, 720], "nice": false, "zero": false}, "axis": null},
            "y": {"field": "i", "type": "quantitative", "scale": {"domain": [0, 10], "range": [248, 195], "nice": false, "zero": false}, "axis": null},
            "detail": {"field": "trace"}
          }
        },
        {
          "data": {"name": "baselines"},
          "mark": {"type": "rule", "color": "black", "strokeWidth": 0.8, "strokeDash": [2, 3]},
          "encoding": {
            "x": {"field": "t0", "type": "quantitative"},
            "x2": {"field": "t1"},
            "y": {"field": "i", "type": "quantitative"}
          }
        },
        {
          "data": {"name": "barV"},
          "mark": {"type": "rule", "color": "black", "strokeWidth": 1},
          "encoding": {
            "x": {"field": "t", "type": "quantitative"},
            "y": {"field": "i0", "type": "quantitative"},
            "y2": {"field": "i1"}
          }
        },
        {
          "data": {"name": "barH"},
          "mark": {"type": "rule", "color": "black", "strokeWidth": 1},
          "encoding": {
            "x": {"field": "t0", "type": "quantitative"},
            "x2": {"field": "t1"},
            "y": {"field": "i", "type": "quantitative"}
          }
        },
        {
          "data": {"name": "tracetitles"},
          "mark": {"type": "text", "fontSize": 20, "align": "center", "baseline": "alphabetic"},
          "encoding": {
            "x": {"field": "t", "type": "quantitative"},
            "y": {"field": "i", "type": "quantitative"},
            "text": {"field": "text"}
          }
        },
        {
          "data": {"name": "barlabels"},
          "mark": {"type": "text", "fontSize": 15, "align": "left", "baseline": "middle"},
          "encoding": {
            "x": {"field": "t", "type": "quantitative"},
            "y": {"field": "i", "type": "quantitative"},
            "text": {"field": "text"}
          }
        }
      ]
    },
    {
      "layer": [
        {
          "data": {"name": "hist"},
          "transform": [{"filter": "datum.s == 'Control'"}],
          "mark": {"type": "area", "color": "#0e0e0e", "stroke": "black", "strokeWidth": 0.8},
          "encoding": {
            "x": {"field": "i", "type": "quantitative",
              "scale": {"domain": [-1, 16], "range": [137, 585], "nice": false, "zero": false},
              "axis": {"orient": "bottom", "offset": -27, "values": [0, 5, 10, 15], "labelFontSize": 19, "tickSize": 4, "labelPadding": 3,
                "title": "i, pA", "titleFontSize": 18, "titleFontWeight": "bold", "titleX": 603, "titleY": 19, "titleAlign": "left", "titleBaseline": "alphabetic"}},
            "y": {"field": "ev", "type": "quantitative",
              "scale": {"domain": [0, 600], "range": [543, 342], "nice": false, "zero": false},
              "axis": {"orient": "left", "offset": -137, "values": [0, 100, 200, 300, 400, 500, 600],
                "labelExpr": "datum.value % 200 == 0 ? datum.label : ''",
                "labelFontSize": 19, "tickSize": 5, "labelPadding": 4,
                "title": "Events", "titleFontSize": 18, "titleFontWeight": "bold", "titleX": -60, "titleY": 454, "titleAngle": -90, "titleAlign": "center", "titleBaseline": "middle"}}
          }
        },
        {
          "data": {"name": "hist"},
          "transform": [{"filter": "datum.s == '+TEA +MTSET'"}],
          "mark": {"type": "area", "color": "#a0a0a0", "stroke": "#333", "strokeWidth": 0.6},
          "encoding": {
            "x": {"field": "i", "type": "quantitative"},
            "y": {"field": "ev", "type": "quantitative"}
          }
        },
        {
          "data": {"name": "hist"},
          "transform": [{"filter": "datum.s == '+TEA'"}],
          "mark": {"type": "area", "color": "#1c1c1c", "stroke": "black", "strokeWidth": 0.8},
          "encoding": {
            "x": {"field": "i", "type": "quantitative"},
            "y": {"field": "ev", "type": "quantitative"}
          }
        },
        {
          "data": {"name": "notes"},
          "transform": [{"filter": "datum.align == 'center'"}],
          "mark": {"type": "text", "fontSize": 20, "align": "center", "baseline": "middle"},
          "encoding": {
            "x": {"field": "i", "type": "quantitative"},
            "y": {"field": "ev", "type": "quantitative"},
            "text": {"field": "text"}
          }
        },
        {
          "data": {"name": "notes"},
          "transform": [{"filter": "datum.align == 'left'"}],
          "mark": {"type": "text", "fontSize": 20, "align": "left", "baseline": "middle"},
          "encoding": {
            "x": {"field": "i", "type": "quantitative"},
            "y": {"field": "ev", "type": "quantitative"},
            "text": {"field": "text"}
          }
        },
        {
          "data": {"name": "arrows"},
          "mark": {"type": "line", "color": "black", "strokeWidth": 1, "interpolate": "cardinal"},
          "encoding": {
            "x": {"field": "i", "type": "quantitative"},
            "y": {"field": "ev", "type": "quantitative"},
            "detail": {"field": "arrow"},
            "order": {"field": "n"}
          }
        },
        {
          "data": {"name": "heads"},
          "transform": [{"filter": "datum.arrow == 'a1'"}],
          "mark": {"type": "point", "shape": "M0,-1L0.5,0.8L-0.5,0.8Z", "filled": true, "color": "black", "size": 70, "angle": 136},
          "encoding": {"x": {"field": "i", "type": "quantitative"}, "y": {"field": "ev", "type": "quantitative"}}
        },
        {
          "data": {"name": "heads"},
          "transform": [{"filter": "datum.arrow == 'a2'"}],
          "mark": {"type": "point", "shape": "M0,-1L0.5,0.8L-0.5,0.8Z", "filled": true, "color": "black", "size": 70, "angle": 157},
          "encoding": {"x": {"field": "i", "type": "quantitative"}, "y": {"field": "ev", "type": "quantitative"}}
        },
        {
          "data": {"name": "heads"},
          "transform": [{"filter": "datum.arrow == 'a3'"}],
          "mark": {"type": "point", "shape": "M0,-1L0.5,0.8L-0.5,0.8Z", "filled": true, "color": "black", "size": 70, "angle": 243},
          "encoding": {"x": {"field": "i", "type": "quantitative"}, "y": {"field": "ev", "type": "quantitative"}}
        }
      ]
    }
  ],
  "resolve": {
    "scale": {"x": "independent", "y": "independent"},
    "axis": {"x": "independent", "y": "independent"}
  }
}
